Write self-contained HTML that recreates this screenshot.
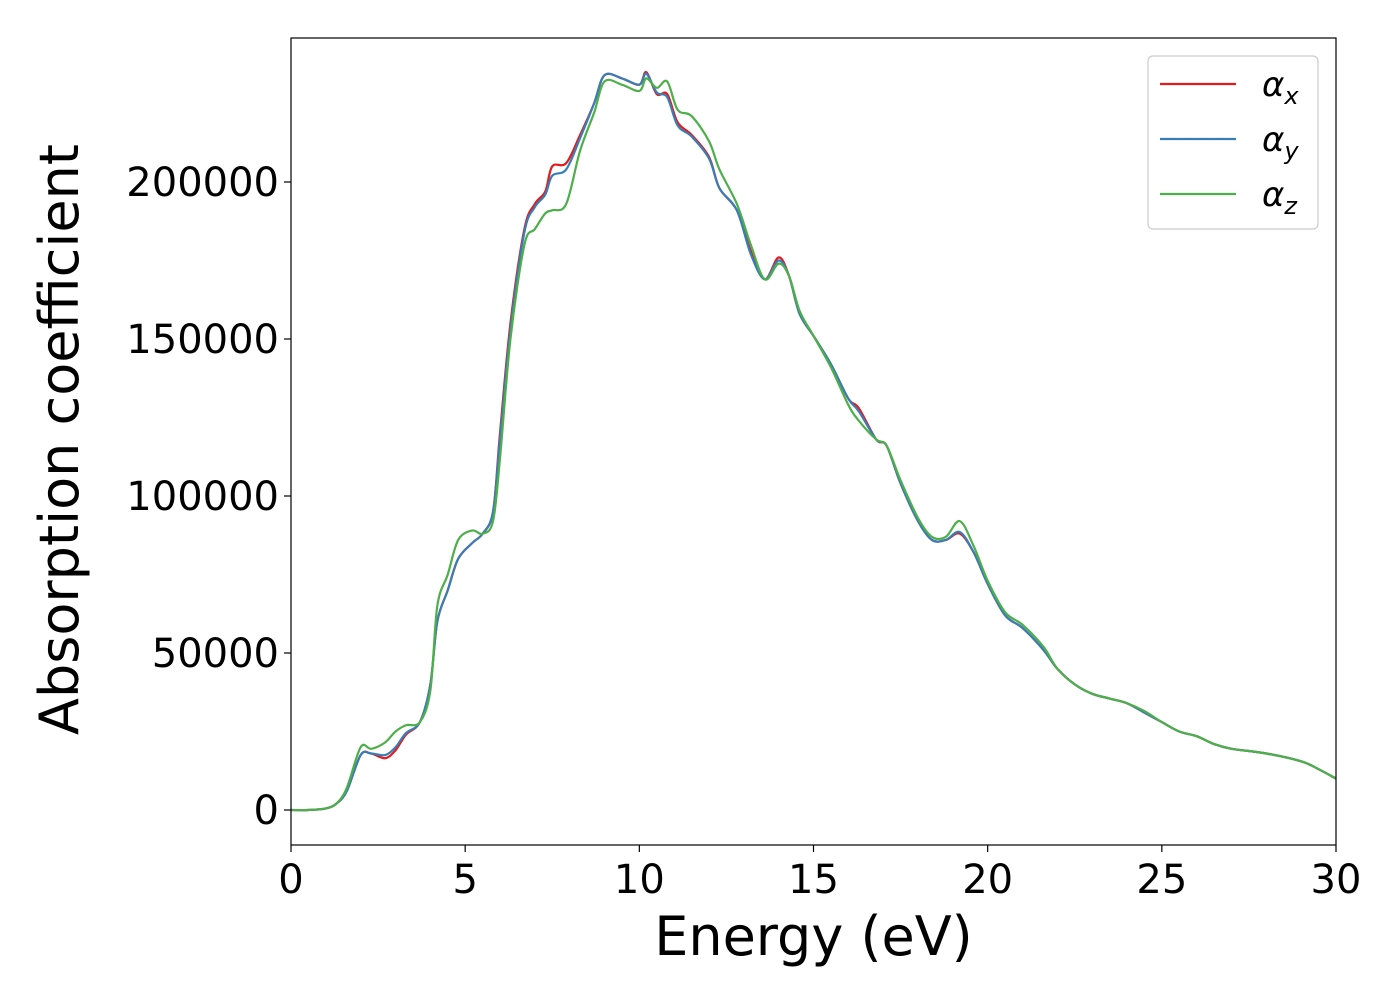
<!DOCTYPE html>
<html><head><meta charset="utf-8"><style>
body{margin:0;background:#fff}
svg text{font-family:"DejaVu Sans","Liberation Sans",sans-serif;fill:#000}
</style></head><body>
<svg id="chart" width="1400" height="1000" xmlns="http://www.w3.org/2000/svg"></svg>
<script>
const energy=[0,0.5,1,1.3,1.6,2.0,2.3,2.7,3.0,3.3,3.7,4.0,4.2,4.5,4.8,5.2,5.5,5.8,6.0,6.3,6.7,7.0,7.3,7.5,7.9,8.3,8.7,9.0,9.5,10.0,10.2,10.5,10.8,11.1,11.5,12.0,12.3,12.8,13.2,13.6,14.0,14.3,14.6,15.0,15.5,16.0,16.3,16.8,17.1,17.5,18.0,18.4,18.8,19.2,19.6,20.0,20.5,21.0,21.6,22.0,22.5,23.0,23.5,24.0,24.5,25.0,25.5,26.0,26.5,27.0,28.0,29.0,29.5,30.0];
const alphaX=[0,0,500,2000,6000,17500,18000,16500,19000,24000,28000,40000,60000,70000,80000,85000,88000,95000,120000,155000,185000,193000,197000,205000,206000,215000,225000,234000,233000,231000,235000,228000,228000,219000,215000,208000,198000,191000,178000,169000,176000,170000,158000,151000,142000,131000,128000,118000,116000,104000,92000,86000,86000,88000,82000,72000,62000,58000,51000,45000,40000,37000,35500,34000,31000,28000,25000,23500,21000,19500,18000,15500,13000,10000];
const alphaY=[0,0,500,2000,6000,17500,18000,17500,20000,24500,28000,40000,60000,70000,80000,85000,88000,95000,118000,153000,184000,192000,196000,202000,204000,214000,225000,234000,233000,231000,234500,228500,227000,218000,214500,207500,198000,191000,177000,169000,175000,170000,158000,151000,142000,131000,127000,118000,116000,104000,92000,86000,86000,88500,82000,72000,62000,58000,51000,45000,40000,37000,35500,34000,31000,28000,25000,23500,21000,19500,18000,15500,13000,10000];
const alphaZ=[0,0,500,2000,7000,20000,19500,21500,25000,27000,28000,38000,65000,75000,86000,89000,88000,92000,112000,150000,180000,185000,190000,191000,193000,210000,222000,232000,231000,229000,233000,230000,232000,223000,221000,213000,204000,193000,180000,169000,174000,170000,159000,151000,141000,129000,124000,118000,116000,105000,93000,87000,87000,92000,84000,73000,63000,59000,52000,45000,40000,37000,35500,34000,31500,28000,25000,23500,21000,19500,18000,15500,13000,10000];
const xTicks=[0,5,10,15,20,25,30];
const yTicks=[0,50000,100000,150000,200000];
const L=291,R=1336,T=38,B=845;
const xs=v=>L+(v-0)/30*(R-L);
const ys=v=>810-v/50000*157;
const svg=document.getElementById('chart');
const NS='http://www.w3.org/2000/svg';
function mk(t,a){const e=document.createElementNS(NS,t);for(const k in a)e.setAttribute(k,a[k]);svg.appendChild(e);return e;}
function pathFor(vals){
  const p=energy.map((e,i)=>[xs(e),ys(vals[i])]);
  let d='M'+p[0][0]+','+p[0][1];
  for(let i=0;i<p.length-1;i++){
    const p0=p[Math.max(0,i-1)],p1=p[i],p2=p[i+1],p3=p[Math.min(p.length-1,i+2)];
    const c1x=p1[0]+(p2[0]-p0[0])/6,c1y=p1[1]+(p2[1]-p0[1])/6;
    const c2x=p2[0]-(p3[0]-p1[0])/6,c2y=p2[1]-(p3[1]-p1[1])/6;
    d+=` C${c1x},${c1y} ${c2x},${c2y} ${p2[0]},${p2[1]}`;
  }
  return d;
}
const series=[[alphaX,'#e41a1c','series-alpha-x'],[alphaY,'#377eb8','series-alpha-y'],[alphaZ,'#4daf4a','series-alpha-z']];
series.forEach(s=>{
  const el=mk('path',{d:pathFor(s[0]),fill:'none',stroke:s[1],'stroke-width':2.2});
  
  
});
const frame=mk('rect',{x:L,y:T,width:R-L,height:B-T,fill:'none',stroke:'#000','stroke-width':1.2});


xTicks.forEach(v=>{
  const t=mk('line',{x1:xs(v),x2:xs(v),y1:B,y2:B+7,stroke:'#000','stroke-width':1.2});
  
  
  const l=mk('text',{x:xs(v),y:B+48,'font-size':40,'text-anchor':'middle'});l.textContent=v;
  
  
});
yTicks.forEach(v=>{
  const t=mk('line',{x1:L-7,x2:L,y1:ys(v),y2:ys(v),stroke:'#000','stroke-width':1.2});
  
  
  const l=mk('text',{x:L-12,y:ys(v)+14,'font-size':40,'text-anchor':'end'});l.textContent=v;
  
  
});
const xt=mk('text',{x:(L+R)/2,y:955,'font-size':54,'text-anchor':'middle'});xt.textContent='Energy (eV)';


const yt=mk('text',{x:0,y:0,'font-size':54,'text-anchor':'middle',transform:`translate(78,${(T+B)/2-2}) rotate(-90)`});yt.textContent='Absorption coefficient';


const lg=mk('rect',{x:1148,y:56,width:170,height:173,rx:5,fill:'#fff',stroke:'#ccc','stroke-width':1.2});


const subs=['x','y','z'];
series.forEach((s,i)=>{
  const yy=84+i*55;
  const ln=mk('line',{x1:1160,x2:1236,y1:yy,y2:yy,stroke:s[1],'stroke-width':2.2});
  
  
  const tx=mk('text',{x:1262,y:yy+12,'font-size':34,'font-style':'italic'});
  tx.innerHTML=`α<tspan font-size="24" dy="8">${subs[i]}</tspan>`;
  
  
});
</script>
</body></html>
